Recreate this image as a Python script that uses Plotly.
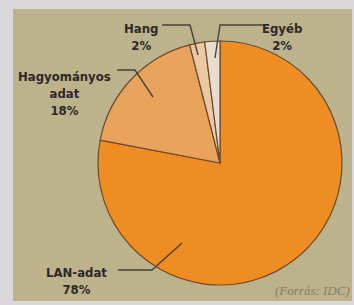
import plotly.graph_objects as go

categories = ["LAN-adat", "Hagyományos adat", "Hang", "Egyéb"]
values = [78, 18, 2, 2]
label_lines = ["LAN-adat<br>78%", "Hagyományos<br>adat<br>18%", "Hang<br>2%", "Egyéb<br>2%"]
colors = ["#EE8E22", "#E9A35C", "#E9C8A2", "#E8DCD0"]
source_text = "(Forrás: IDC)"

W, H = 354, 305

def px(x):
    return x / W

def py(y):
    return 1 - y / H

fig = go.Figure()
fig.add_trace(go.Pie(
    labels=categories,
    values=values,
    sort=False,
    direction="clockwise",
    rotation=0,
    textinfo="none",
    hoverinfo="skip",
    showlegend=False,
    marker=dict(colors=colors, line=dict(color="#6E4A2A", width=1.2)),
    domain=dict(x=[px(98), px(342)], y=[py(285), py(41)]),
))

font_main = dict(family="DejaVu Sans Condensed, Liberation Sans Narrow, Arial Narrow, sans-serif",
                 size=13, color="#2E2828")

label_pos = {
    "LAN-adat": (76, 281),
    "Hagyományos adat": (64, 94),
    "Hang": (141, 37),
    "Egyéb": (282, 37),
}
annotations = []
for cat, txt in zip(categories, label_lines):
    x, y = label_pos[cat]
    annotations.append(dict(
        x=px(x), y=py(y), xref="paper", yref="paper", text="<b>" + txt + "</b>",
        showarrow=False, font=font_main, align="center", xanchor="center", yanchor="middle",
    ))
annotations.append(dict(
    x=px(352), y=py(290), xref="paper", yref="paper", text="<i>" + source_text + "</i>",
    showarrow=False, xanchor="right", yanchor="middle",
    font=dict(family="Liberation Serif, DejaVu Serif, serif", size=13, color="#857D68"),
))

line_style = dict(color="#4A4038", width=1.4)
leaders = [
    [(162, 25), (190, 25), (198, 55)],
    [(265, 25), (220, 25), (215, 58)],
    [(117, 70), (135, 70), (153, 97)],
    [(118, 270), (152, 270), (182, 243)],
]
shapes = [
    dict(type="rect", xref="paper", yref="paper", x0=px(13), x1=px(352), y0=py(301), y1=py(9),
         fillcolor="#BCB28C", line=dict(width=0), layer="below"),
]
for pts in leaders:
    path = "M " + " L ".join(f"{px(x)},{py(y)}" for x, y in pts)
    shapes.append(dict(type="path", xref="paper", yref="paper", path=path, line=line_style))

fig.update_layout(
    width=W, height=H,
    margin=dict(l=0, r=0, t=0, b=0),
    paper_bgcolor="#DAD8DA",
    plot_bgcolor="#DAD8DA",
    shapes=shapes,
    annotations=annotations,
)

fig.write_html("out.html", config={"displayModeBar": False},
               post_script="document.body.style.margin='0';document.body.style.overflow='hidden';")
